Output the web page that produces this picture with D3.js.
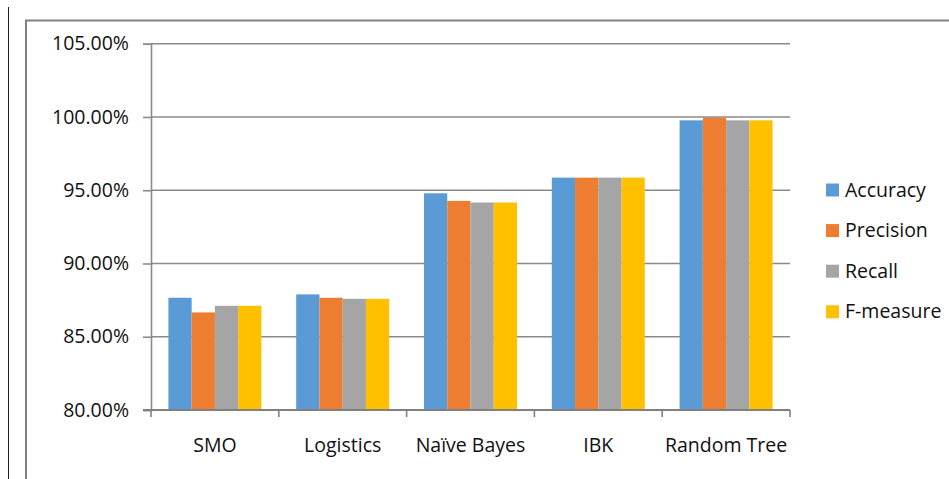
<!DOCTYPE html>
<html>
<head>
<meta charset="utf-8">
<script src="https://cdn.jsdelivr.net/npm/d3@7/dist/d3.min.js"></script>
<style>
  html, body { margin: 0; padding: 0; background: #fff; }
  svg { display: block; }
  text { font-family: "Open Sans", Lato, sans-serif; fill: #111; }
</style>
</head>
<body>
<svg id="chart" width="949" height="479"></svg>
<script>
// Classifier comparison: four metrics per algorithm
const categories = ["SMO", "Logistics", "Naïve Bayes", "IBK", "Random Tree"];
const seriesNames = ["Accuracy", "Precision", "Recall", "F-measure"];
const accuracy  = [87.66, 87.89, 94.79, 95.86, 99.77];
const precision = [86.66, 87.66, 94.27, 95.86, 99.95];
const recall    = [87.11, 87.59, 94.16, 95.86, 99.77];
const fmeasure  = [87.11, 87.59, 94.16, 95.86, 99.77];
const yTicks = [80, 85, 90, 95, 100, 105];
const colors = ["#5B9BD5", "#ED7D31", "#A5A5A5", "#FFC000"];

const seriesValues = [accuracy, precision, recall, fmeasure];
const rows = categories.map((c, i) => ({
  category: c,
  values: seriesNames.map((s, k) => ({ key: s, value: seriesValues[k][i] }))
}));

const FONT = "'Open Sans', Lato, sans-serif";
const FS = 19.5;

const svg = d3.select("#chart");

// outer frame
svg.append("line").attr("x1", 8.5).attr("x2", 8.5).attr("y1", 7).attr("y2", 479)
  .attr("stroke", "#222").attr("stroke-width", 1);
svg.append("path").attr("d", "M26,479 V20.5 H949")
  .attr("fill", "none").attr("stroke", "#808080").attr("stroke-width", 2);

const plot = { left: 151, right: 790, top: 43.7, bottom: 410 };

const x = d3.scaleBand().domain(categories).range([plot.left, plot.right]);
const x1 = d3.scaleBand().domain(seriesNames).range([0, 93]);
const y = d3.scaleLinear().domain([80, 105]).range([plot.bottom, plot.top]);

// horizontal gridlines
svg.append("g").selectAll("line").data(yTicks.slice(1)).join("line")
  .attr("x1", plot.left).attr("x2", plot.right)
  .attr("y1", d => y(d)).attr("y2", d => y(d))
  .attr("stroke", "#8a8a8a").attr("stroke-width", 1.6);

// bars
const groupOffset = (x.bandwidth() - 93) / 2;
svg.append("g").selectAll("g").data(rows).join("g")
  .attr("transform", d => `translate(${x(d.category) + groupOffset},0)`)
  .selectAll("rect").data(d => d.values).join("rect")
  .attr("x", d => x1(d.key))
  .attr("width", x1.bandwidth())
  .attr("y", d => y(d.value))
  .attr("height", d => y(80) - y(d.value))
  .attr("fill", (d, i) => colors[i]);

// y axis
const yAxis = svg.append("g").attr("transform", `translate(${plot.left},0)`)
  .call(d3.axisLeft(y).tickValues(yTicks).tickSize(8).tickPadding(14)
    .tickFormat(d => d.toFixed(2) + "%"));
yAxis.select(".domain").attr("stroke", "#8a8a8a").attr("stroke-width", 1.6);
yAxis.selectAll(".tick line").attr("stroke", "#8a8a8a").attr("stroke-width", 1.6);
yAxis.selectAll(".tick text").attr("font-size", FS).attr("fill", "#111")
  .style("font-family", FONT);

// x axis with boundary ticks between categories
const xAxis = svg.append("g").attr("transform", `translate(0,${plot.bottom})`);
xAxis.append("line").attr("x1", plot.left - 8).attr("x2", plot.right)
  .attr("stroke", "#808080").attr("stroke-width", 2.2);
const bounds = categories.map(c => x(c)).concat([plot.right]);
xAxis.selectAll(".bt").data(bounds).join("line").attr("class", "bt")
  .attr("x1", d => d).attr("x2", d => d).attr("y1", 0).attr("y2", 7)
  .attr("stroke", "#808080").attr("stroke-width", 1.6);
xAxis.selectAll(".cl").data(categories).join("text").attr("class", "cl")
  .attr("x", d => x(d) + x.bandwidth() / 2).attr("y", 41.5)
  .attr("text-anchor", "middle").attr("font-size", FS)
  .text(d => d);

// legend
const legend = svg.append("g").selectAll("g").data(seriesNames).join("g")
  .attr("transform", (d, i) => `translate(826,${190 + i * 40.6})`);
legend.append("rect").attr("x", 0).attr("y", -6.5).attr("width", 13).attr("height", 13)
  .attr("fill", (d, i) => colors[i]);
legend.append("text").attr("x", 19).attr("y", 6.5).attr("font-size", FS)
  .text(d => d);
</script>
</body>
</html>
